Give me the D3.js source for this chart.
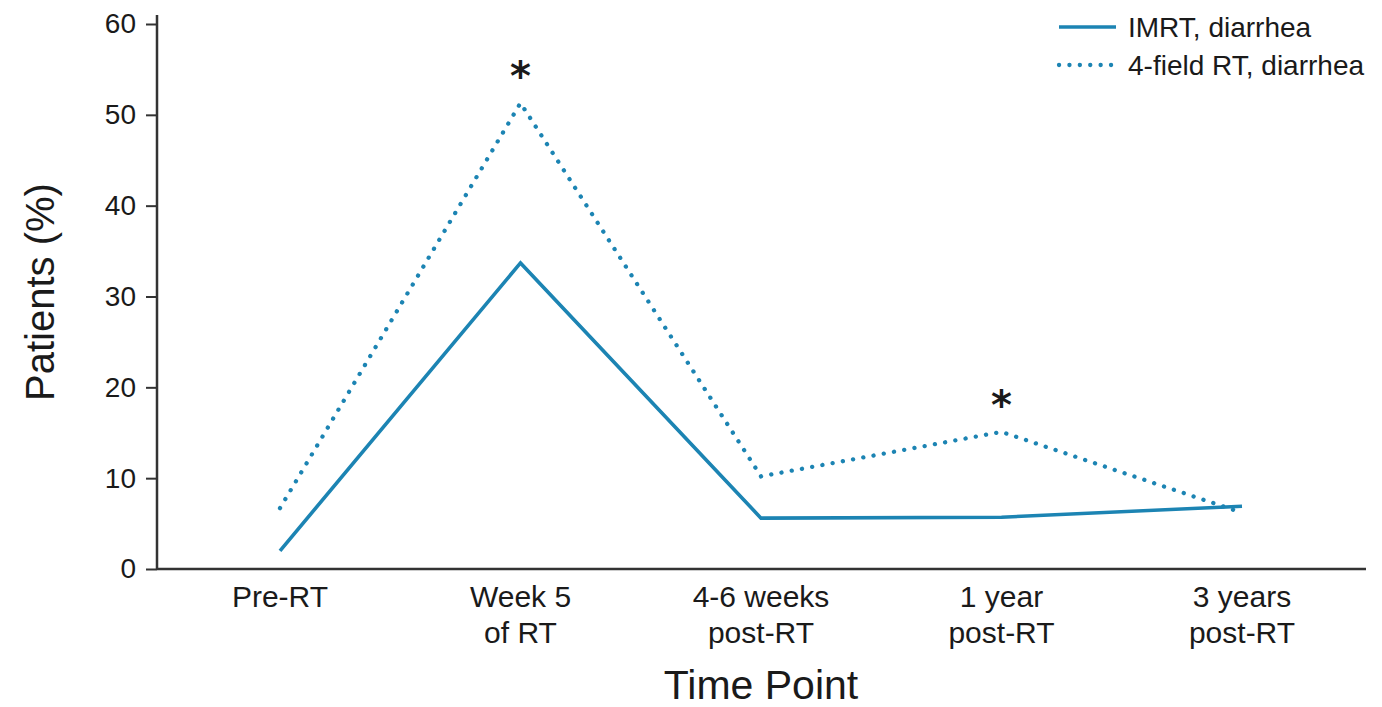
<!DOCTYPE html>
<html lang="en">
<head>
  <meta charset="utf-8">
  <title>Diarrhea by time point</title>
  <script src="https://d3js.org/d3.v7.min.js"></script>
  <style type="text/css">
    body { margin: 0; background: #fff; }
    text { font-family: "Liberation Sans", Arial, sans-serif; fill: #1a1a1a; }
  </style>
</head>
<body>
  <div id="chart"></div>
  <script type="text/javascript">
    const timePoints = ["Pre-RT", "Week 5|of RT", "4-6 weeks|post-RT", "1 year|post-RT", "3 years|post-RT"];
    const imrt = [2.0, 33.7, 5.6, 5.7, 6.9];
    const fourField = [6.7, 51.3, 10.2, 15.1, 6.2];
    const yTicks = [0, 10, 20, 30, 40, 50, 60];
    // significant differences marked with an asterisk
    const starPoints = ["Week 5|of RT", "1 year|post-RT"];
    const seriesNames = ["IMRT, diarrhea", "4-field RT, diarrhea"];

    const w = 1382;
    const h = 707;
    const blue = "#1c84b3";

    const svg = d3.select("#chart")
      .append("svg")
      .attr("width", w)
      .attr("height", h);

    const xScale = d3.scalePoint()
      .domain(timePoints)
      .range([280, 1242]);

    const yScale = d3.scaleLinear()
      .domain([0, 60])
      .range([569, 24]);

    // y axis
    const leftAxis = d3.axisLeft(yScale)
      .tickValues(yTicks)
      .tickSize(11)
      .tickPadding(10);
    const yAxis = svg.append("g")
      .attr("transform", "translate(157,0)")
      .call(leftAxis);
    yAxis.select(".domain").remove();
    yAxis.selectAll(".tick line").attr("stroke", "#333").attr("stroke-width", 2);
    yAxis.selectAll(".tick text")
      .style("font-size", "28px")
      .attr("fill", "#1a1a1a");
    yAxis.append("line")
      .attr("x1", 0).attr("x2", 0)
      .attr("y1", yScale(61)).attr("y2", yScale(0))
      .attr("stroke", "#333").attr("stroke-width", 2.5);

    // x axis
    svg.append("line")
      .attr("x1", 157).attr("x2", 1366)
      .attr("y1", yScale(0)).attr("y2", yScale(0))
      .attr("stroke", "#333").attr("stroke-width", 2.5);

    const xLabels = svg.selectAll("text.xlab")
      .data(timePoints)
      .enter()
      .append("text")
      .attr("class", "xlab")
      .attr("text-anchor", "middle")
      .style("font-size", "30px")
      .attr("transform", d => `translate(${xScale(d)},607)`);
    xLabels.selectAll("tspan")
      .data(d => d.split("|"))
      .enter()
      .append("tspan")
      .attr("x", 0)
      .attr("y", (d, i) => i * 36)
      .text(d => d);

    svg.append("text")
      .attr("x", (xScale.range()[0] + xScale.range()[1]) / 2)
      .attr("y", 699)
      .attr("text-anchor", "middle")
      .style("font-size", "41px")
      .text("Time Point");

    svg.append("text")
      .attr("transform", "translate(54,292) rotate(-90)")
      .attr("text-anchor", "middle")
      .style("font-size", "40px")
      .text("Patients (%)");

    // lines
    const line = d3.line()
      .x((d, i) => xScale(timePoints[i]))
      .y(d => yScale(d));

    svg.append("path")
      .datum(fourField)
      .attr("fill", "none")
      .attr("stroke", blue)
      .attr("stroke-width", 4.3)
      .attr("stroke-linecap", "round")
      .attr("stroke-dasharray", "0.1 10.3")
      .attr("d", line);

    svg.append("path")
      .datum(imrt)
      .attr("fill", "none")
      .attr("stroke", blue)
      .attr("stroke-width", 3.6)
      .attr("d", line);

    // asterisks above the 4-field points
    svg.selectAll("text.star")
      .data(starPoints)
      .enter()
      .append("text")
      .attr("class", "star")
      .attr("x", d => xScale(d))
      .attr("y", d => yScale(fourField[timePoints.indexOf(d)]) - 13)
      .attr("text-anchor", "middle")
      .style("font-family", "DejaVu Sans")
      .style("font-weight", "bold")
      .style("font-size", "40px")
      .text("*");

    // legend
    const legend = svg.selectAll(".legend")
      .data(seriesNames)
      .enter().append("g")
      .attr("class", "legend")
      .attr("transform", (d, i) => `translate(0,${27 + i * 38})`);

    legend.append("line")
      .attr("x1", 1059).attr("x2", 1116)
      .attr("y1", 0).attr("y2", 0)
      .attr("stroke", blue)
      .attr("stroke-width", (d, i) => i ? 4.3 : 3.6)
      .attr("stroke-linecap", (d, i) => i ? "round" : "butt")
      .attr("stroke-dasharray", (d, i) => i ? "0.1 10.3" : null);

    legend.append("text")
      .attr("x", 1128)
      .attr("y", 10)
      .style("font-size", "28px")
      .text(d => d);
  </script>
</body>
</html>
